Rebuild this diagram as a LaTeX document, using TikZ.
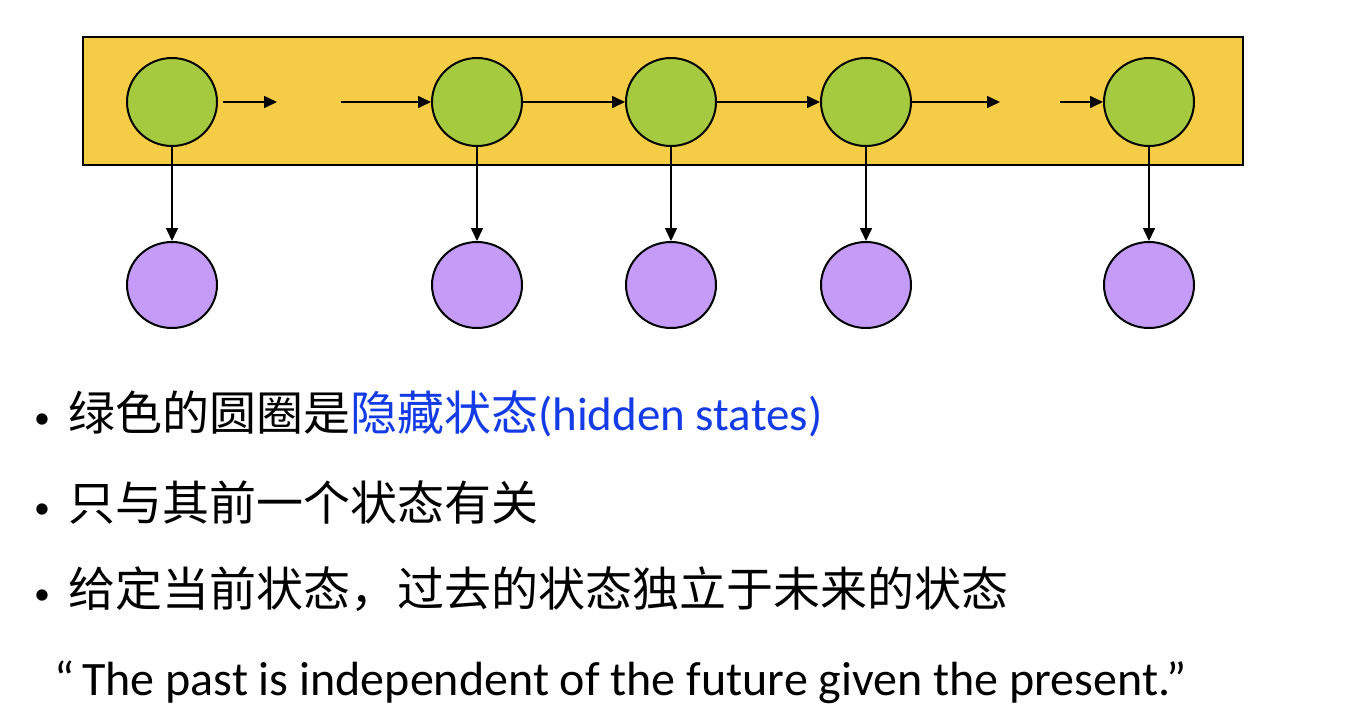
\documentclass[tikz,border=0pt]{standalone}
\usepackage{fontspec}
\setmainfont{Carlito}
\newfontfamily\cjk{Noto Sans CJK SC}
\usetikzlibrary{arrows.meta,shapes.geometric}
\definecolor{boxyellow}{RGB}{245,204,69}
\definecolor{hidgreen}{RGB}{165,201,63}
\definecolor{obspurple}{RGB}{196,155,246}
\definecolor{textblue}{RGB}{20,60,230}
\begin{document}
\begin{tikzpicture}[x=1pt,y=-1pt,
  hid/.style={ellipse,draw=black,line width=2pt,fill=hidgreen,minimum width=90pt,minimum height=88pt,inner sep=0pt},
  obs/.style={ellipse,draw=black,line width=2pt,fill=obspurple,minimum width=90pt,minimum height=86pt,inner sep=0pt},
  conn/.style={line width=1.6pt,-{Triangle[length=13pt,width=12pt]}},
  txt/.style={anchor=base west,inner sep=0pt,font=\fontsize{47}{56}\selectfont},
  bul/.style={anchor=base,inner sep=0pt,font=\fontsize{32}{40}\selectfont},
]
\useasboundingbox (0,0) rectangle (1366,724);
\node[draw=black,line width=2.2pt,fill=boxyellow,minimum width=1160pt,minimum height=128pt,inner sep=0pt] (band) at (663,101) {};
% hidden states
\node[hid] (h1) at (172,102) {};
\node[hid] (h2) at (477,102) {};
\node[hid] (h3) at (671,102) {};
\node[hid] (h4) at (866,102) {};
\node[hid] (h5) at (1149,102) {};
% observations
\node[obs] (o1) at (172,285) {};
\node[obs] (o2) at (477,285) {};
\node[obs] (o3) at (671,285) {};
\node[obs] (o4) at (866,285) {};
\node[obs] (o5) at (1149,285) {};
% gap coordinates
\coordinate (a1s) at (223,102);
\coordinate (a1e) at (277,102);
\coordinate (a2s) at (341,102);
\coordinate (a4e) at (1000,102);
\coordinate (a5s) at (1060,102);
% horizontal arrows
\draw[conn] (a1s) -- (a1e);
\draw[conn] (a2s) -- (h2);
\draw[conn] (h2) -- (h3);
\draw[conn] (h3) -- (h4);
\draw[conn] (h4) -- (a4e);
\draw[conn] (a5s) -- (h5);
% vertical arrows
\foreach \i in {1,...,5} \draw[conn] (h\i) -- (o\i);
% text
\node[bul] (b1) at (42,428) {•};
\node[txt] (t1) at (68,430) {{\cjk 绿色的圆圈是}\textcolor{textblue}{{\cjk 隐藏状态}(hidden states)}};
\node[bul] (b2) at (42,518) {•};
\node[txt] (t2) at (68,520) {\cjk 只与其前一个状态有关};
\node[bul] (b3) at (42,604) {•};
\node[txt] (t3) at (68,606) {\cjk 给定当前状态，过去的状态独立于未来的状态};
\node[txt,font=\fontsize{48}{56}\selectfont] (t4) at (54,695) {“\,The past is independent of the future given the present.”};
\end{tikzpicture}
\end{document}
